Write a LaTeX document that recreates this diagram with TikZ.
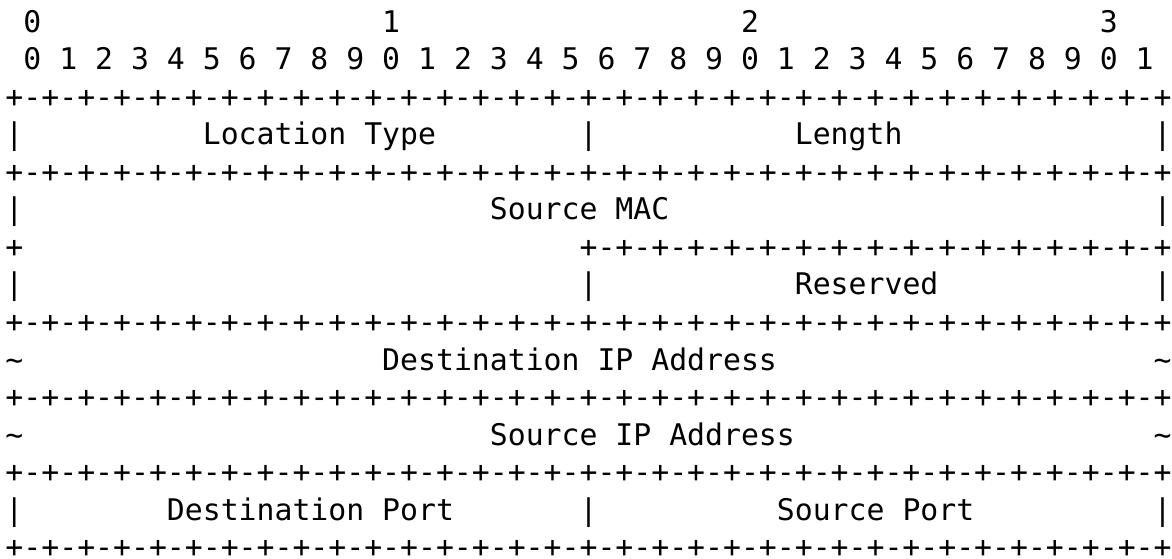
\documentclass[tikz,border=0pt]{standalone}
\usepackage{fontspec}
\setmonofont{DejaVu Sans Mono}
\usepackage{tikz}
\usetikzlibrary{positioning}
\newcommand{\asciifont}{\fontsize{29.8}{37.6}\selectfont\ttfamily}
\newcommand{\halfrule}{+-+-+-+-+-+-+-+-+-+-+-+-+-+-+-+-+}
\newcommand{\fullrule}{+-+-+-+-+-+-+-+-+-+-+-+-+-+-+-+-\halfrule}
\tikzset{%
	cell/.style = {inner sep=0pt, outer sep=0pt, anchor=base west, font=\asciifont}, % one character column
}
\begin{document}
\begin{tikzpicture}[x=17.94pt, y=-37.57pt]
	\useasboundingbox ({-5.5/17.94},{-32/37.57}) rectangle ({1166.5/17.94},{526/37.57});
	\fill[white] ({-5.5/17.94},{-32/37.57}) rectangle ({1166.5/17.94},{526/37.57});
	% bit numbers
	\foreach \d [count=\i from 0] in {0,1,2,3}
		\node[cell] (tens\i) at ({1+20*\i},0) {\d};
	\foreach \k in {0,...,31} {
		\pgfmathtruncatemacro{\u}{mod(\k,10)}
		\node[cell] (bit\k) at ({1+2*\k},1) {\u};
	}
	% separator lines
	\foreach \r in {2,4,8,10,12,14}
		\node[cell] (rule\r) at (0,\r) {\fullrule};
	
	\node[cell] (lbar3) at (0,3) {|};
	\node[cell] (loctype) at (11,3) {Location Type};
	\node[cell] (mbar3) at (32,3) {|};
	\node[cell] (length) at (44,3) {Length};
	\node[cell] (rbar3) at (64,3) {|};
	
	\node[cell] (lbar5) at (0,5) {|};
	\node[cell] (srcmac) at (27,5) {Source MAC};
	\node[cell] (rbar5) at (64,5) {|};
	
	\node[cell] (lplus6) at (0,6) {+};
	\node[cell] (rule6) at (32,6) {\halfrule};
	
	\node[cell] (lbar7) at (0,7) {|};
	\node[cell] (mbar7) at (32,7) {|};
	\node[cell] (reserved) at (44,7) {Reserved};
	\node[cell] (rbar7) at (64,7) {|};
	
	\node[cell] (ltilde9) at (0,9) {\string~};
	\node[cell] (dstip) at (21,9) {Destination IP Address};
	\node[cell] (rtilde9) at (64,9) {\string~};
	
	\node[cell] (ltilde11) at (0,11) {\string~};
	\node[cell] (srcip) at (27,11) {Source IP Address};
	\node[cell] (rtilde11) at (64,11) {\string~};
	
	\node[cell] (lbar13) at (0,13) {|};
	\node[cell] (dstport) at (9,13) {Destination Port};
	\node[cell] (mbar13) at (32,13) {|};
	\node[cell] (srcport) at (43,13) {Source Port};
	\node[cell] (rbar13) at (64,13) {|};
\end{tikzpicture}
\end{document}
